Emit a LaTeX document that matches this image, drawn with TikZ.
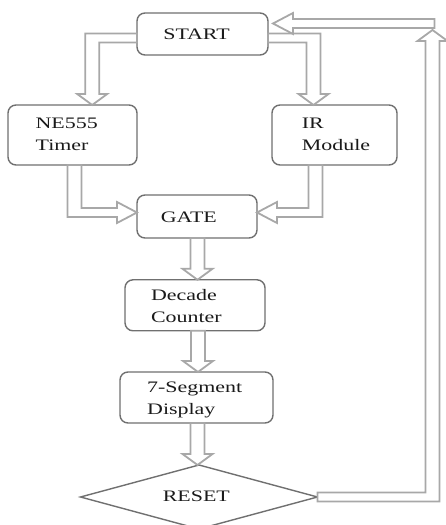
\documentclass[tikz,border=0pt]{standalone}
\usepackage{fontspec}
\setmainfont{Liberation Serif}[FakeStretch=1.37]
\usetikzlibrary{shapes.geometric,calc}

\definecolor{boxgray}{HTML}{707070}
\definecolor{arrowgray}{HTML}{A8A8A8}
\definecolor{textdark}{HTML}{1A1A1A}

% sizes of the hollow block arrows
\newcommand\shaftV{7}     % half width of a vertical shaft
\newcommand\shaftH{4.5}   % half height of a horizontal shaft
\newcommand\headVw{15}    % half width of a vertical head
\newcommand\headVl{11}    % length of a vertical head
\newcommand\headHw{10.5}  % half height of a horizontal head
\newcommand\headHl{20}    % length of a horizontal head

% horizontal leg from #1 to the column of #2, then vertical leg to the row of #3
\newcommand\hollowHV[3]{%
  \draw[hollow] let \p1=(#1), \p2=(#2), \p3=(#3),
      \n1={sign(\x2-\x1)}, \n2={sign(\y3-\y1)} in
    (\x1,{\y1-(\n2)*\shaftH})
 -- ({\x2+(\n1)*\shaftV},{\y1-(\n2)*\shaftH})
 -- ({\x2+(\n1)*\shaftV},{\y3-(\n2)*\headVl})
 -- ({\x2+(\n1)*\headVw},{\y3-(\n2)*\headVl})
 -- (\x2,\y3)
 -- ({\x2-(\n1)*\headVw},{\y3-(\n2)*\headVl})
 -- ({\x2-(\n1)*\shaftV},{\y3-(\n2)*\headVl})
 -- ({\x2-(\n1)*\shaftV},{\y1+(\n2)*\shaftH})
 -- (\x1,{\y1+(\n2)*\shaftH}) -- cycle;}

% vertical leg from #1 to the row of #2, then horizontal leg to the column of #3
\newcommand\hollowVH[3]{%
  \draw[hollow] let \p1=(#1), \p2=(#2), \p3=(#3),
      \n1={sign(\x3-\x1)}, \n2={sign(\y2-\y1)} in
    ({\x1-(\n1)*\shaftV},\y1)
 -- ({\x1-(\n1)*\shaftV},{\y2+(\n2)*\shaftH})
 -- ({\x3-(\n1)*\headHl},{\y2+(\n2)*\shaftH})
 -- ({\x3-(\n1)*\headHl},{\y2+(\n2)*\headHw})
 -- (\x3,\y2)
 -- ({\x3-(\n1)*\headHl},{\y2-(\n2)*\headHw})
 -- ({\x3-(\n1)*\headHl},{\y2-(\n2)*\shaftH})
 -- ({\x1+(\n1)*\shaftV},{\y2-(\n2)*\shaftH})
 -- ({\x1+(\n1)*\shaftV},\y1) -- cycle;}

% straight vertical arrow from #1 to the row of #2
\newcommand\hollowV[2]{%
  \draw[hollow] let \p1=(#1), \p2=(#2), \n1={sign(\y2-\y1)} in
    ({\x1-\shaftV},\y1)
 -- ({\x1-\shaftV},{\y2-(\n1)*\headVl})
 -- ({\x1-\headVw},{\y2-(\n1)*\headVl})
 -- (\x1,\y2)
 -- ({\x1+\headVw},{\y2-(\n1)*\headVl})
 -- ({\x1+\shaftV},{\y2-(\n1)*\headVl})
 -- ({\x1+\shaftV},\y1) -- cycle;}

% straight horizontal arrow from #1 to the column of #2
\newcommand\hollowH[2]{%
  \draw[hollow] let \p1=(#1), \p2=(#2), \n1={sign(\x2-\x1)} in
    (\x1,{\y1-\shaftH})
 -- ({\x2-(\n1)*\headHl},{\y1-\shaftH})
 -- ({\x2-(\n1)*\headHl},{\y1-\headHw})
 -- (\x2,\y1)
 -- ({\x2-(\n1)*\headHl},{\y1+\headHw})
 -- ({\x2-(\n1)*\headHl},{\y1+\shaftH})
 -- (\x1,{\y1+\shaftH}) -- cycle;}

\begin{document}
\begin{tikzpicture}[x=1pt, y=1pt,
  block/.style={draw=boxgray, line width=1.4pt, rounded corners=8pt,
    fill=white, inner sep=0pt, outer sep=0pt},
  decision/.style={diamond, draw=boxgray, line width=1.4pt, fill=white,
    inner sep=0pt, outer sep=0pt},
  lbl/.style={font=\fontsize{16}{21.7}\selectfont, align=left,
    text=textdark, inner sep=0pt},
  hollow/.style={draw=arrowgray, line width=1.8pt, fill=white,
    line join=miter}]

\useasboundingbox (0,0) rectangle (446,525);

% blocks
\node[block, minimum width=131pt, minimum height=42pt] (start) at (202.5,491) {};
\node[block, minimum width=129pt, minimum height=60pt] (ne)    at (72.5,390) {};
\node[block, minimum width=125pt, minimum height=60pt] (ir)    at (334.5,390) {};
\node[block, minimum width=120pt, minimum height=43pt] (gate)  at (197,308.5) {};
\node[block, minimum width=140pt, minimum height=51pt] (dec)   at (195,219.7) {};
\node[block, minimum width=153pt, minimum height=51pt] (seg)   at (196.5,127.5) {};
\node[decision, minimum width=237pt, minimum height=64pt] (reset) at (199,28) {};

% block texts
\node[lbl] (startT) at ([shift={(-6,-0.7)}]start.center) {START};
\node[lbl] (neT)    at ([shift={(-5.8,0.5)}]ne.center) {NE555\\Timer};
\node[lbl] (irT)    at ([shift={(1.5,0.5)}]ir.center) {IR\\Module};
\node[lbl] (gateT)  at ([shift={(-8.2,-0.7)}]gate.center) {GATE};
\node[lbl] (decT)   at ([shift={(-8.6,-1)}]dec.center) {Decade\\Counter};
\node[lbl] (segT)   at ([shift={(-1.8,-2.5)}]seg.center) {7-Segment\\Display};
\node[lbl] (resetT) at ([shift={(-2.7,1.1)}]reset.center) {RESET};

% bends and free ends of the block arrows
\coordinate (bendL)     at (92.2,487);
\coordinate (bendR)     at (313.5,487);
\coordinate (joinY)     at (0,312.5);
\coordinate (loopBend)  at (432.5,28);
\coordinate (loopTop)   at (432.5,495);
\coordinate (loopStart) at (434.5,501.5);

% START to both inputs
\hollowHV{[yshift=-4pt]start.west}{bendL}{ne.north}
\hollowHV{[yshift=-4pt]start.east}{bendR}{ir.north}

% both inputs into the gate
\hollowVH{[xshift=2pt]ne.south}{joinY}{gate.west}
\hollowVH{[xshift=-19pt]ir.south}{joinY}{gate.east}

% main chain
\hollowV{[xshift=0.5pt]gate.south}{dec.north}
\hollowV{[xshift=3pt]dec.south}{seg.north}
\hollowV{[xshift=1pt]seg.south}{reset.north}

% reset loop back to START
\hollowHV{reset.east}{loopBend}{loopTop}
\hollowH{loopStart}{[shift={(5,10.5)}]start.east}

\end{tikzpicture}
\end{document}
